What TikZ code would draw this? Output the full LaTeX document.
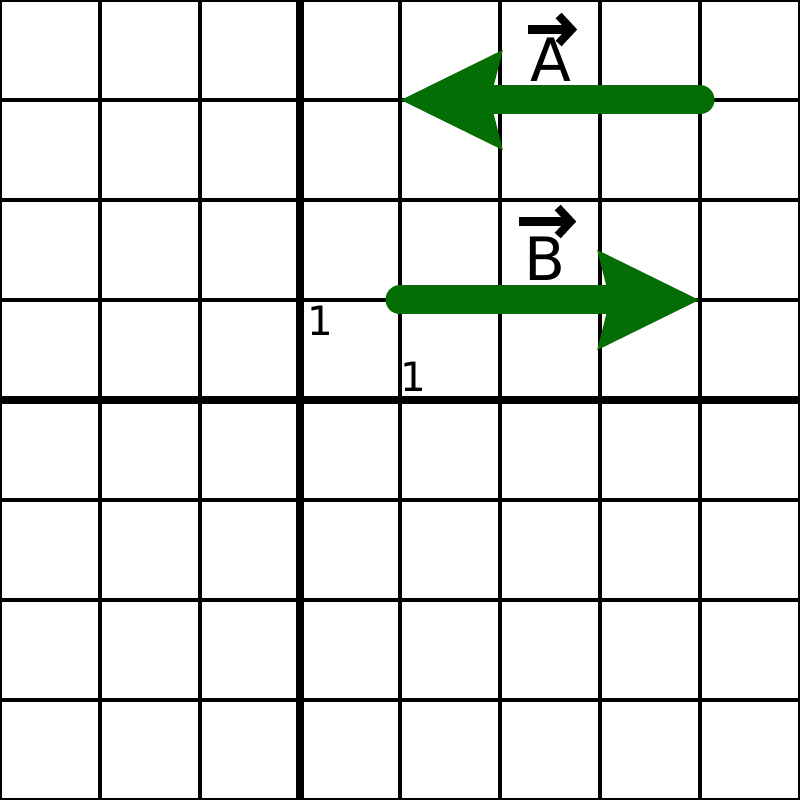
\documentclass[tikz,border=0pt]{standalone}
\usepackage{fontspec}
\setmainfont{DejaVu Sans}
\usepackage{xcolor}
\usepackage{tikz}
\usetikzlibrary{arrows.meta}
\definecolor{vecGreen}{HTML}{046E04}

\begin{document}
\begin{tikzpicture}[
    gridline/.style={black, line width=1.15pt},
    axisline/.style={black, line width=2.5pt},
    vec/.style={vecGreen, line width=0.29cm, line cap=round,
      -{Stealth[length=10mm, width=9.4mm, inset=1mm]}},
    veclabel/.style={inner sep=0pt, font=\fontsize{17}{17}\selectfont},
    vechat/.style={black, line width=2.3pt, -{Straight Barb[length=1.3mm, width=2.8mm]}},
    tick/.style={inner sep=0pt, font=\fontsize{11.5}{12}\selectfont}]
  \useasboundingbox (-3,-4) rectangle (5,4);

  % Grid and axes
  \draw[gridline] (-3,-4) grid (5,4);
  \draw[axisline] (-3,0) -- (5,0);
  \draw[axisline] (0,-4) -- (0,4);

  % Unit labels
  \node[tick] (ytick) at (0.20,0.79) {1};
  \node[tick] (xtick) at (1.13,0.23) {1};

  % Vector A
  \coordinate (Atail) at (4,3);
  \coordinate (Ahead) at (1,3);
  \draw[vec] (Atail) -- (Ahead);
  \node[veclabel] (labA) at (2.51,3.40) {A};
  \draw[vechat] ([xshift=-0.02cm, yshift=0.08cm]labA.north west) -- ([xshift=0.05cm, yshift=0.08cm]labA.north east);

  % Vector B
  \coordinate (Btail) at (1,1);
  \coordinate (Bhead) at (4,1);
  \draw[vec] (Btail) -- (Bhead);
  \node[veclabel] (labB) at (2.45,1.41) {B};
  \draw[vechat] ([xshift=-0.05cm, yshift=0.15cm]labB.north west) -- ([xshift=0.1cm, yshift=0.15cm]labB.north east);
\end{tikzpicture}
\end{document}
